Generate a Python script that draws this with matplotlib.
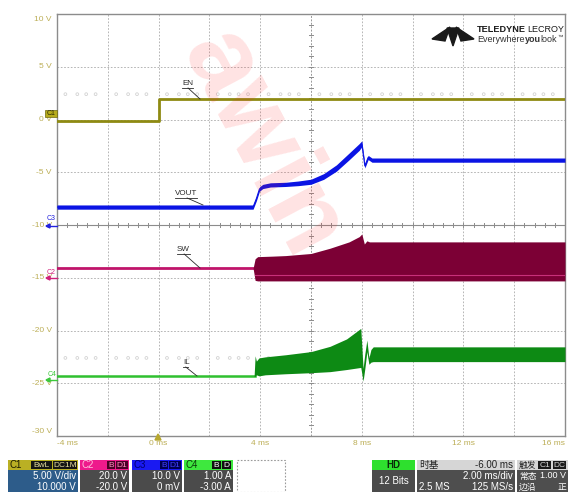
import matplotlib
matplotlib.use("Agg")
import matplotlib.pyplot as plt
from matplotlib.patches import Rectangle, Polygon
import numpy as np

plt.rcParams['font.family'] = ['Liberation Sans', 'Noto Sans CJK SC', 'DejaVu Sans']

# ---- axis layout (ms / V) ----
x_ticks = [-4, 0, 4, 8, 12, 16]
x_tick_labels = ['-4 ms', '0 ms', '4 ms', '8 ms', '12 ms', '16 ms']
y_ticks = [10, 5, 0, -5, -10, -15, -20, -25, -30]
y_tick_labels = ['10 V', '5 V', '0 V', '-5 V', '-10 V', '-15 V', '-20 V', '-25 V', '-30 V']

# ---- C1: EN ----
en_t = [-4, 0, 0, 16]
en_v = [-0.14, -0.14, 1.9, 1.9]

# ---- C3: VOUT ----
vout_t = [-4, 3.72, 3.85, 3.97, 4.1, 4.4, 5.0, 5.5, 6.0, 6.5, 7.0, 7.5, 7.9, 8.0, 8.12, 8.25, 8.4, 16]
vout_v = [-8.3, -8.3, -7.5, -6.6, -6.35, -6.2, -6.15, -6.05, -5.9, -5.4, -4.6, -3.5, -2.6, -2.3, -4.4, -3.6, -3.85, -3.85]
vout_ripple = [0.2, 0.2, 0.2, 0.2, 0.2, 0.2, 0.2, 0.22, 0.24, 0.27, 0.3, 0.32, 0.32, 0.28, 0.2, 0.2, 0.2, 0.2]

# ---- C2: SW ----
sw_idle_t = [-4, 3.78]
sw_idle_v = [-14.1, -14.1]
sw_t = [3.72, 3.8, 3.9, 4.5, 5.0, 6.0, 6.75, 7.5, 7.9, 8.0, 8.1, 8.2, 8.3, 16]
sw_top = [-14.1, -13.2, -13.0, -12.95, -12.9, -12.7, -12.2, -11.6, -11.1, -10.85, -11.8, -11.5, -11.6, -11.6]
sw_bot = [-14.1, -15.25, -15.3, -15.3, -15.3, -15.3, -15.3, -15.3, -15.3, -15.3, -15.3, -15.3, -15.3, -15.3]
sw_low_t = [3.8, 16]
sw_low_v = [-14.75, -14.75]

# ---- C4: IL ----
il_idle_t = [-4, 3.78]
il_idle_v = [-24.35, -24.35]
il_t = [3.76, 3.8, 3.85, 3.95, 4.2, 5.0, 6.0, 6.75, 7.4, 7.96, 8.05, 8.12, 8.2, 8.28, 8.36, 8.45, 16]
il_top = [-24.35, -22.4, -22.9, -22.6, -22.5, -22.3, -22.0, -21.5, -20.8, -19.8, -23.6, -22.2, -20.9, -22.6, -21.8, -21.55, -21.55]
il_bot = [-24.35, -24.35, -24.2, -24.3, -24.2, -24.1, -24.0, -23.9, -23.7, -23.5, -24.8, -23.6, -22.0, -23.2, -23.0, -22.95, -22.95]

# faint digital markers along two rows
dot_rows = [2.4, -22.6]
dot_offsets = [0.33, 0.8, 1.15, 1.52]

W, H = 568, 492
fig = plt.figure(figsize=(W / 100, H / 100), dpi=100)
fig.patch.set_facecolor('white')

ax = fig.add_axes([57 / W, 1 - 436 / H, 508 / W, 422 / H])
ax.set_xlim(-4, 16)
ax.set_ylim(-30, 10)
ax.set_xticks([])
ax.set_yticks([])
for s in ax.spines.values():
    s.set_color('#8c8c8c')
    s.set_linewidth(1.0)

grid_color = '#a9a9a9'
for t in np.arange(-2, 16, 2):
    if t == 6:
        continue
    ax.axvline(t, color=grid_color, lw=0.6, ls=(0, (2, 2)), zorder=1)
for v in np.arange(-25, 10, 5):
    if v == -10:
        continue
    ax.axhline(v, color=grid_color, lw=0.6, ls=(0, (2, 2)), zorder=1)

# centre cross with minor ticks
ax.axvline(6, color='#999999', lw=0.7, ls=(0, (2, 1.5)), zorder=1)
ax.axhline(-10, color='#8c8c8c', lw=0.8, zorder=1)
for t in np.arange(-4, 16.01, 0.4):
    ax.plot([t, t], [-10.22, -9.78], color='#8c8c8c', lw=0.7, zorder=1)
for v in np.arange(-30, 10.01, 1):
    ax.plot([5.92, 6.08], [v, v], color='#8c8c8c', lw=0.7, zorder=1)

# digital marker dots
for row in dot_rows:
    xs = [d + off for d in np.arange(-4, 16, 2) for off in dot_offsets]
    ax.scatter(xs, [row] * len(xs), s=4, facecolors='none', edgecolors='#d2d2d2',
               linewidths=0.6, zorder=2)

# traces
ax.plot(en_t, en_v, color='#8e8a12', lw=2.0, zorder=4)

vt = np.array(vout_t); vv = np.array(vout_v); vr = np.array(vout_ripple)
ax.fill_between(vt, vv - vr, vv + vr, color='#0b14e4', lw=0, zorder=4)
ax.plot(vt, vv, color='#0b14e4', lw=0.8, zorder=4)

ax.plot(sw_idle_t, sw_idle_v, color='#c0146a', lw=2.0, zorder=4)
ax.fill_between(sw_t, sw_bot, sw_top, color='#7c0035', lw=0, zorder=4)
ax.plot(sw_low_t, sw_low_v, color='#c8307a', lw=0.8, zorder=4)

ax.plot(il_idle_t, il_idle_v, color='#2fc02f', lw=1.8, zorder=4)
ax.fill_between(il_t, il_bot, il_top, color='#0d8a14', lw=0, zorder=4)

# tick labels
lab_color = '#bcae56'
for v, s in zip(y_ticks, y_tick_labels):
    yy = v
    if v == 10:
        yy = 9.45
    if v == -30:
        yy = -29.6
    ax.text(-0.01, yy, s, transform=ax.get_yaxis_transform(), ha='right', va='center',
            fontsize=6, color=lab_color)
for t, s in zip(x_ticks, x_tick_labels):
    ha = 'center'
    if t == -4:
        ha = 'left'
    elif t == 16:
        ha = 'right'
    ax.text(t, -0.01, s, transform=ax.get_xaxis_transform(), ha=ha, va='top',
            fontsize=6, color=lab_color)

# ---- overlay in pixel coordinates ----
ov = fig.add_axes([0, 0, 1, 1])
ov.set_xlim(0, W)
ov.set_ylim(H, 0)
ov.axis('off')
ov.patch.set_alpha(0)

# trace labels with leaders
def trace_label(text, x, y, x2, y2, w):
    ov.text(x, y, text, fontsize=5.8, color='#2a2a2a', ha='left', va='bottom')
    ov.plot([x, x + w], [y + 1, y + 1], color='#2a2a2a', lw=0.6)
    ov.plot([x + w * 0.55, x2], [y + 1, y2], color='#2a2a2a', lw=0.6)

trace_label('EN', 182, 87, 200, 99, 11)
trace_label('VOUT', 175, 197, 203, 205, 22)
trace_label('SW', 177, 253, 200, 268, 13)
trace_label('IL', 183, 366, 197, 376, 5)

# channel offset markers
ov.add_patch(Rectangle((45, 110), 12, 7, facecolor='#b6ab1c', edgecolor='#6e6810', lw=0.5))
ov.text(51, 113.5, 'C1', fontsize=5, color='#2b2b00', ha='center', va='center')
for txt, col, yt, ya in [('C3', '#2222dd', 219, 226), ('C2', '#d0207a', 272, 278), ('C4', '#3cc83c', 375, 380)]:
    ov.text(56, yt, txt, fontsize=5, color=col, ha='right', va='center')
    ov.plot([47, 57], [ya, ya], color=col, lw=1.0)
    ov.add_patch(Polygon([(46, ya), (50, ya - 2), (50, ya + 2)], color=col))

# trigger position marker
ov.add_patch(Polygon([(155, 440), (161, 440), (158, 434)], color='#b8a830'))

# logo
ov.add_patch(Polygon([(450, 27), (432, 39), (445, 41)], color='#1a1a1a'))
ov.add_patch(Polygon([(447, 28), (459, 28), (453, 46)], color='#1a1a1a'))
ov.add_patch(Polygon([(456, 27), (474, 39), (461, 41)], color='#1a1a1a'))

ov.text(477, 29, 'TELEDYNE', fontsize=6.6, fontweight='bold', color='#1a1a1a', ha='left', va='center')
ov.text(564, 29, 'LECROY', fontsize=6.5, color='#1a1a1a', ha='right', va='center')
ov.text(477, 39, 'Everywhere', fontsize=6.5, color='#333333', ha='left', va='center')
ov.text(524.5, 39, 'you', fontsize=6.5, fontweight='bold', color='#333333', ha='left', va='center')
ov.text(540.5, 39, 'look', fontsize=6.5, color='#333333', ha='left', va='center')
ov.text(557.5, 37, '\u2122', fontsize=4, color='#333333', ha='left', va='center')

# watermark
ov.text(262, 145, 'awin', fontsize=78, fontweight='bold', color='#ff2020', alpha=0.13,
        rotation=-62, ha='center', va='center')

# ---- channel info boxes ----
def box(x0, x1, head_col, body_col):
    ov.add_patch(Rectangle((x0, 460), x1 - x0, 10, facecolor=head_col, lw=0))
    ov.add_patch(Rectangle((x0, 470), x1 - x0, 22, facecolor=body_col, lw=0))

def tag(x0, x1, txt, bg, fg):
    ov.add_patch(Rectangle((x0, 461), x1 - x0, 8, facecolor=bg, lw=0))
    ov.text((x0 + x1) / 2, 465.2, txt, fontsize=6, color=fg, ha='center', va='center')

fs = 7
box(8, 78, '#bab024', '#2d5c8a')
ov.text(10, 465.2, 'C1', fontsize=fs, color='#1e1e00', va='center')
tag(31, 52, 'BwL', '#141414', '#e8e0a0')
tag(53, 77, 'DC1M', '#141414', '#e8e0a0')
ov.text(76, 476, '5.00 V/div', fontsize=fs, color='white', ha='right', va='center')
ov.text(76, 487, '10.000 V', fontsize=fs, color='white', ha='right', va='center')

box(80, 129, '#ee1a8c', '#4b4b4b')
ov.text(82, 465.2, 'C2', fontsize=fs, color='#ffc0dc', va='center')
tag(107, 115, 'B', '#4a0026', '#ff90c0')
tag(116, 128, 'D1', '#4a0026', '#ff90c0')
ov.text(127, 476, '20.0 V', fontsize=fs, color='white', ha='right', va='center')
ov.text(127, 487, '-20.0 V', fontsize=fs, color='white', ha='right', va='center')

box(132, 182, '#1a1af2', '#4b4b4b')
ov.text(134, 465.2, 'C3', fontsize=fs, color='#000070', va='center')
tag(160, 168, 'B', '#000050', '#4040ff')
tag(169, 181, 'D1', '#000050', '#4040ff')
ov.text(180, 476, '10.0 V', fontsize=fs, color='white', ha='right', va='center')
ov.text(180, 487, '0 mV', fontsize=fs, color='white', ha='right', va='center')

box(184, 233, '#3ee83e', '#4b4b4b')
ov.text(186, 465.2, 'C4', fontsize=fs, color='#0a3a0a', va='center')
tag(212, 221, 'B', '#101010', 'white')
tag(222, 231, 'D', '#101010', 'white')
ov.text(231, 476, '1.00 A', fontsize=fs, color='white', ha='right', va='center')
ov.text(231, 487, '-3.00 A', fontsize=fs, color='white', ha='right', va='center')

ov.add_patch(Rectangle((237, 460), 48, 32, facecolor='none', edgecolor='#9a9a9a',
                       lw=0.8, ls=(0, (1.5, 1.5))))

# acquisition / timebase / trigger
box(372, 415, '#2ee02e', '#4b4b4b')
ov.text(393.5, 465.2, 'HD', fontsize=fs, color='#0a2a0a', fontweight='bold', ha='center', va='center')
ov.text(393.5, 481, '12 Bits', fontsize=fs, color='white', ha='center', va='center')

box(417, 515, '#d6d6d6', '#4e4e4e')
ov.text(419, 465.2, '时基', fontsize=fs, color='#222222', va='center')
ov.text(513, 465.2, '-6.00 ms', fontsize=fs, color='#222222', ha='right', va='center')
ov.text(513, 476, '2.00 ms/div', fontsize=fs, color='white', ha='right', va='center')
ov.text(419, 487, '2.5 MS', fontsize=fs, color='white', va='center')
ov.text(513, 487, '125 MS/s', fontsize=fs, color='white', ha='right', va='center')

box(517, 568, '#d6d6d6', '#4e4e4e')
ov.text(519, 465.2, '触发', fontsize=6.3, color='#222222', va='center')
tag(538, 551, 'C1', '#1a1a1a', '#d8d8d8')
tag(553, 566, 'DC', '#1a1a1a', '#d8d8d8')
ov.text(519, 476, '常态', fontsize=6.3, color='white', va='center')
ov.text(566, 476, '1.00 V', fontsize=6.5, color='white', ha='right', va='center')
ov.text(519, 487, '边沿', fontsize=6.3, color='white', va='center')
ov.text(566, 487, '正', fontsize=6.3, color='white', ha='right', va='center')

fig.savefig('out.png', dpi=100, facecolor='white')
